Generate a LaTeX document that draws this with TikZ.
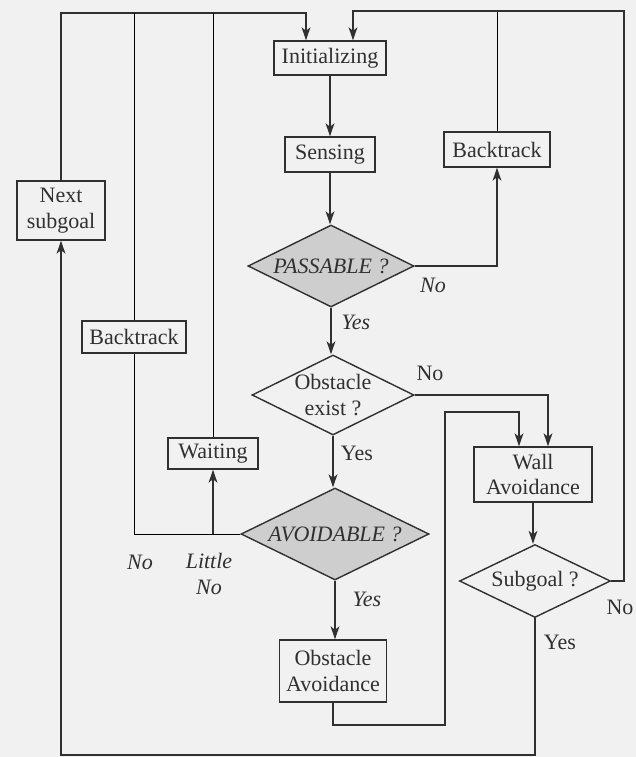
\documentclass[tikz,border=0pt]{standalone}
\usepackage{fontspec}
\setmainfont{Liberation Serif}
\usetikzlibrary{shapes.geometric,arrows.meta}
\definecolor{paper}{RGB}{241,241,241}
\definecolor{ink}{RGB}{48,48,48}
\definecolor{shade}{RGB}{206,206,206}
\begin{document}
\begin{tikzpicture}[x=0.5pt,y=-0.5pt,
  every node/.style={font=\fontsize{11}{12.8}\selectfont, text=ink},
  box/.style={draw=ink, line width=0.7pt, fill=paper, inner sep=0pt, align=center},
  test/.style={draw=ink, line width=0.7pt, shape=diamond, aspect=2, inner sep=0pt, align=center, fill=paper},
  hatched/.style={test, fill=shade, font=\fontsize{11}{12.8}\selectfont\itshape},
  flow/.style={draw=ink, line width=0.7pt},
  arr/.style={flow, -{Stealth[length=6.5pt,width=4.4pt,inset=1.8pt]}},
  lbl/.style={inner sep=0pt},
  ilbl/.style={lbl, font=\fontsize{11}{12.8}\selectfont\itshape}]

% canvas
\useasboundingbox (0,0) rectangle (636,757);
\fill[paper] (0,0) rectangle (636,757);

% main column
\node[box, minimum width=56pt, minimum height=17pt] (init) at (330,58) {Initializing};
\node[box, minimum width=45pt, minimum height=17.5pt] (sens) at (330,154.5) {Sensing};
\node[hatched, minimum width=83pt, minimum height=41pt] (pass) at (331,266) {PASSABLE ?};
\node[test, minimum width=81pt, minimum height=40pt] (obs) at (333,395) {Obstacle\\exist ?};
\node[hatched, minimum width=94pt, minimum height=46pt] (avoid) at (335,534) {AVOIDABLE ?};
\node[box, minimum width=53.5pt, minimum height=31pt] (oav) at (333,671) {Obstacle\\Avoidance};

% right branch
\node[box, minimum width=53pt, minimum height=17.5pt] (bkR) at (497,149.5) {Backtrack};
\node[box, minimum width=59pt, minimum height=27.5pt] (wall) at (533,474.5) {Wall\\Avoidance};
\node[test, minimum width=75.5pt, minimum height=36.5pt] (sub) at (535,581) {Subgoal ?};

% left branch
\node[box, minimum width=44pt, minimum height=29.5pt] (nsub) at (61,210.5) {Next\\subgoal};
\node[box, minimum width=52pt, minimum height=16pt] (bkL) at (134,337) {Backtrack};
\node[box, minimum width=45pt, minimum height=15.5pt] (wait) at (213,453.5) {Waiting};

% helper coordinates
\coordinate (topL) at (0,13);
\coordinate (topR) at (0,11);
\coordinate (farR) at (624,0);
\coordinate (bot) at (0,755);
\coordinate (loopA) at (445,725);
\coordinate (loopB) at (445,412);
\coordinate (inL) at ([xshift=-12pt]init.north);
\coordinate (inR) at ([xshift=11.5pt]init.north);

% connectors
\draw[arr] (init) -- (sens);
\draw[arr] (sens.south) -- (sens.south |- pass.north);
\draw[arr] (pass.south) -- (pass.south |- obs.north);
\draw[arr] (obs.south) -- (obs.south |- avoid.north);
\draw[arr] (avoid.south) -- (avoid.south |- oav.north);

\draw[arr] (pass.east) -| (bkR.south);
\draw (bkR.north) -- (bkR.north |- topR);
\draw[arr] (sub.east) -| (farR |- topR) -| (inR);

\draw[arr] (obs.east) -| ([xshift=7.5pt]wall.north);
\draw[arr] (oav.south) |- (loopA) -- (loopB) -| ([xshift=-7pt]wall.north);
\draw[arr] (wall.south) -- (wall.south |- sub.north);
\draw[arr] (sub.south) |- (nsub.south |- bot) -- (nsub.south);

\draw[arr] (nsub.north) |- (inL |- topL) -- (inL);
\draw (bkL.north) -- (bkL.north |- topL);
\draw (wait.north) -- (wait.north |- topL);
\draw (avoid.west) -| (bkL.south);
\draw[arr] (wait.south |- avoid.west) -- (wait.south);

% branch labels
\node[ilbl] (lPassNo) at (433,285) {No};
\node[ilbl] (lPassYes) at (356,322) {Yes};
\node[lbl] (lObsNo) at (430,373) {No};
\node[lbl] (lObsYes) at (357,453) {Yes};
\node[ilbl] (lAvYes) at (367,599) {Yes};
\node[ilbl] (lAvNo) at (140,562) {No};
\node[ilbl, align=center] (lAvLittle) at (209,574) {Little\\No};
\node[lbl] (lSubYes) at (560,642) {Yes};
\node[lbl] (lSubNo) at (620,607) {No};
\end{tikzpicture}
\end{document}
